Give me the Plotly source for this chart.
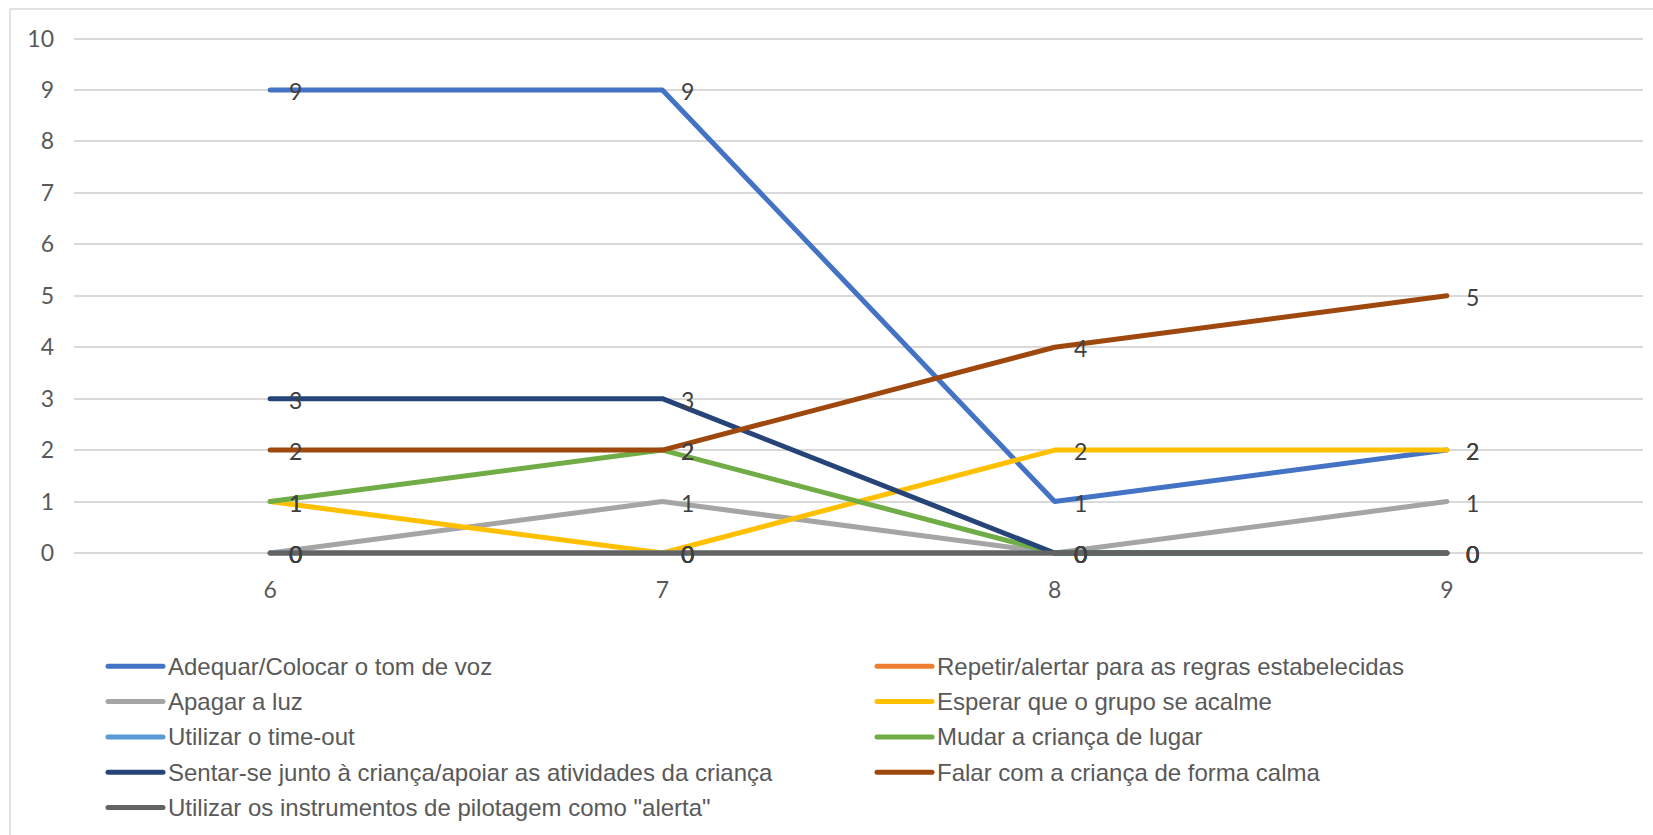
import plotly.graph_objects as go

# Idade (anos) no eixo horizontal
ages = [6, 7, 8, 9]

series_names = [
    "Adequar/Colocar o tom de voz",
    "Repetir/alertar para as regras estabelecidas",
    "Apagar a luz",
    "Esperar que o grupo se acalme",
    "Utilizar o time-out",
    "Mudar a criança de lugar",
    "Sentar-se junto à criança/apoiar as atividades da criança",
    "Falar com a criança de forma calma",
    "Utilizar os instrumentos de pilotagem como \"alerta\"",
]

adequar = [9, 9, 1, 2]
repetir = [0, 0, 0, 0]
apagar = [0, 1, 0, 1]
esperar = [1, 0, 2, 2]
time_out = [0, 0, 0, 0]
mudar = [1, 2, 0, 0]
sentar = [3, 3, 0, 0]
falar = [2, 2, 4, 5]
instrumentos = [0, 0, 0, 0]

series_values = [adequar, repetir, apagar, esperar, time_out,
                 mudar, sentar, falar, instrumentos]

colors = ["#4472C4", "#ED7D31", "#A5A5A5", "#FFC000", "#5B9BD5",
          "#70AD47", "#264478", "#9E480E", "#636363"]

W, H = 1653, 835
L, R, T, B = 74, 10, 36, 266
PW, PH = W - L - R, H - T - B

NUM_FONT = "Lato, Open Sans, sans-serif"


def px(x):
    return (x - L) / PW


def py(y):
    return (H - B - y) / PH


fig = go.Figure()
annotations = []

for name, vals, col in zip(series_names, series_values, colors):
    fig.add_trace(go.Scatter(
        x=ages, y=vals, name=name, mode="lines",
        line=dict(color=col, width=5), showlegend=False,
        hoverinfo="x+y+name",
    ))
    for a, v in zip(ages, vals):
        annotations.append(dict(
            x=a, y=v, xref="x", yref="y", text=str(v), showarrow=False,
            xanchor="left", yanchor="middle", xshift=17, yshift=-1,
            font=dict(family=NUM_FONT, size=23, color="#404040"),
        ))

# Legenda em duas colunas
shapes = []
row0, row_gap = 666.3, 35.3
for i, (name, col) in enumerate(zip(series_names, colors)):
    r, c = divmod(i, 2)
    y = row0 + r * row_gap
    x_line0, x_line1, x_text = (108, 163, 166) if c == 0 else (877, 932, 935)
    shapes.append(dict(type="line", xref="paper", yref="paper",
                       x0=px(x_line0), x1=px(x_line1), y0=py(y), y1=py(y),
                       line=dict(color=col, width=5)))
    annotations.append(dict(
        x=px(x_text), y=py(y), xref="paper", yref="paper", text=name,
        showarrow=False, xanchor="left", yanchor="middle",
        font=dict(family="Liberation Sans, Arial, sans-serif", size=24, color="#595959"),
    ))

# Moldura do gráfico
shapes.append(dict(type="rect", xref="paper", yref="paper",
                   x0=px(10), x1=px(1662), y0=py(845), y1=py(9),
                   line=dict(color="#D9D9D9", width=1.5), layer="below"))

fig.update_layout(
    width=W, height=H, autosize=False,
    margin=dict(l=L, r=R, t=T, b=B, pad=0),
    paper_bgcolor="white", plot_bgcolor="white",
    showlegend=False,
    shapes=shapes, annotations=annotations,
    xaxis=dict(
        range=[5.5, 9.5], tickvals=ages, ticktext=[str(a) for a in ages],
        showgrid=False, zeroline=False, showline=False, ticks="",
        tickfont=dict(family=NUM_FONT, size=23, color="#595959"),
        ticklabelstandoff=5,
    ),
    yaxis=dict(
        range=[-0.311, 10.049], tickvals=list(range(0, 11)),
        showgrid=True, gridcolor="#D9D9D9", gridwidth=1.5,
        zeroline=False, showline=False, ticks="",
        tickfont=dict(family=NUM_FONT, size=23, color="#595959"),
        ticklabelstandoff=19,
    ),
)

post = """
document.querySelectorAll('.scatterlayer .js-line, .shapelayer path').forEach(function(p){
  p.style.strokeLinejoin = 'round';
  p.style.strokeLinecap = 'round';
});
"""

fig.write_html("out.html", post_script=post)
